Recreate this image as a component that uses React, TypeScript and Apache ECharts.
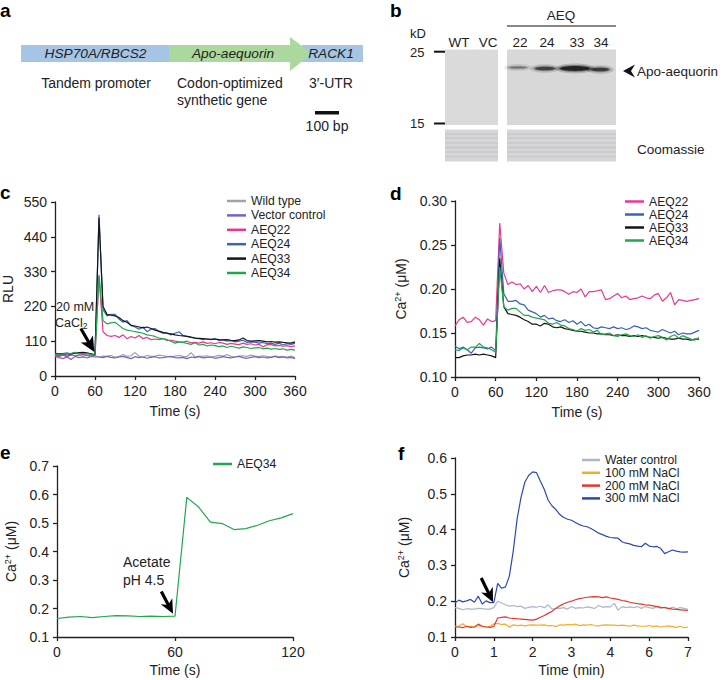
import React, { useEffect, useRef } from "react";
import * as echarts from "echarts";

const FONT = "'Liberation Sans', Arial, Helvetica, sans-serif";
const INK = "#222";

// ---------- Panel c (RLU) ----------
const tC = Array.from({ length: 61 }, (_, i) => i * 6);
const cWildType = [65, 62, 68, 63, 66, 64, 67, 62, 65, 63, 64,
  60, 63, 62, 65, 60, 62, 68, 62, 64, 74, 63, 60, 65, 62, 63, 66, 64, 62, 60, 63, 65, 62, 61, 74, 60, 63, 62, 64, 60, 62, 65, 63, 68, 62, 60, 63, 64, 62, 66, 63, 61, 64, 62, 60, 63, 61, 62, 60, 63, 58];
const cVector = [62, 58, 55, 60, 52, 62, 58, 60, 57, 62, 60,
  60, 58, 62, 59, 57, 60, 62, 58, 55, 61, 58, 60, 56, 59, 61, 57, 58, 60, 62, 58, 57, 59, 55, 60, 58, 61, 57, 59, 60, 56, 58, 61, 59, 57, 60, 62, 58, 56, 59, 61, 58, 60, 57, 59, 62, 58, 60, 57, 59, 55];
const cAEQ22 = [65, 62, 66, 60, 68, 64, 66, 68, 65, 63, 66, 315,
  140, 128, 125, 128, 122, 130, 118, 125, 120, 128, 118, 122, 115, 117, 115, 118, 112, 113, 110, 108, 107, 110, 105, 106, 104, 108, 103, 105, 102, 106, 104, 100, 103, 101, 99, 104, 100, 102, 98, 100, 92, 99, 100, 95, 97, 94, 96, 93, 95];
const cAEQ24 = [68, 65, 70, 66, 70, 72, 73, 70, 71, 69, 66, 510,
  210, 190, 195, 195, 180, 170, 175, 160, 155, 148, 155, 140, 148, 150, 140, 135, 137, 130, 135, 140, 128, 125, 122, 120, 118, 115, 117, 115, 118, 112, 115, 110, 112, 108, 110, 113, 106, 108, 107, 104, 106, 102, 104, 100, 104, 98, 102, 100, 103];
const cAEQ33 = [72, 70, 71, 72, 70, 73, 74, 75, 73, 70, 68, 500,
  220, 195, 192, 190, 185, 175, 170, 160, 158, 155, 152, 155, 150, 145, 142, 138, 135, 133, 130, 128, 127, 125, 123, 120, 119, 118, 117, 116, 117, 115, 114, 115, 113, 112, 114, 120, 112, 110, 111, 112, 110, 108, 109, 107, 108, 106, 105, 104, 108];
const cAEQ34 = [70, 68, 70, 72, 71, 75, 72, 70, 72, 68, 66, 320,
  175, 165, 168, 170, 160, 150, 145, 143, 140, 138, 135, 130, 128, 125, 120, 118, 115, 110, 104, 108, 106, 103, 100, 105, 98, 100, 95, 98, 96, 93, 95, 90, 94, 91, 88, 92, 90, 87, 89, 90, 86, 88, 85, 87, 84, 86, 82, 84, 82];

// ---------- Panel d (Ca2+ µM) ----------
const dAEQ22 = [0.158, 0.165, 0.168, 0.162, 0.163, 0.168, 0.165, 0.159, 0.166, 0.163, 0.164, 0.275,
  0.218, 0.205, 0.208, 0.205, 0.206, 0.2, 0.204, 0.197, 0.203, 0.196, 0.204, 0.196, 0.198, 0.199, 0.199, 0.197, 0.194, 0.197, 0.196, 0.2, 0.191, 0.197, 0.197, 0.198, 0.199, 0.188, 0.189, 0.192, 0.195, 0.19, 0.192, 0.188, 0.189, 0.19, 0.192, 0.19, 0.189, 0.193, 0.195, 0.186, 0.19, 0.196, 0.182, 0.188, 0.187, 0.186, 0.187, 0.188, 0.189];
const dAEQ24 = [0.135, 0.132, 0.134, 0.131, 0.127, 0.133, 0.134, 0.133, 0.132, 0.134, 0.13, 0.258,
  0.195, 0.186, 0.186, 0.187, 0.183, 0.182, 0.176, 0.174, 0.172, 0.168, 0.17, 0.166, 0.167, 0.164, 0.163, 0.165, 0.162, 0.164, 0.16, 0.163, 0.158, 0.16, 0.156, 0.155, 0.157, 0.156, 0.155, 0.157, 0.155, 0.156, 0.154, 0.155, 0.158, 0.157, 0.155, 0.156, 0.153, 0.152, 0.151, 0.154, 0.152, 0.15, 0.152, 0.148, 0.15, 0.149, 0.149, 0.151, 0.153];
const dAEQ33 = [0.122, 0.122, 0.124, 0.125, 0.125, 0.126, 0.125, 0.126, 0.125, 0.124, 0.122, 0.235,
  0.18, 0.172, 0.171, 0.17, 0.168, 0.165, 0.163, 0.16, 0.16, 0.158, 0.161, 0.16, 0.157, 0.156, 0.157, 0.155, 0.154, 0.153, 0.152, 0.152, 0.151, 0.15, 0.15, 0.149, 0.149, 0.148, 0.148, 0.147, 0.148, 0.147, 0.147, 0.146, 0.147, 0.146, 0.147, 0.146, 0.145, 0.145, 0.144, 0.145, 0.144, 0.143, 0.143, 0.144, 0.143, 0.143, 0.142, 0.143, 0.143];
const dAEQ34 = [0.131, 0.13, 0.133, 0.131, 0.134, 0.134, 0.138, 0.134, 0.133, 0.131, 0.128, 0.225,
  0.18, 0.176, 0.178, 0.178, 0.174, 0.17, 0.17, 0.168, 0.167, 0.166, 0.165, 0.161, 0.16, 0.162, 0.159, 0.158, 0.155, 0.154, 0.152, 0.155, 0.153, 0.154, 0.151, 0.153, 0.148, 0.149, 0.15, 0.147, 0.146, 0.148, 0.149, 0.147, 0.146, 0.148, 0.145, 0.147, 0.144, 0.146, 0.147, 0.145, 0.142, 0.146, 0.148, 0.144, 0.147, 0.145, 0.143, 0.142, 0.145];

// ---------- Panel e ----------
const tE = Array.from({ length: 21 }, (_, i) => i * 6);
const eAEQ34 = [0.165, 0.17, 0.172, 0.168, 0.172, 0.175, 0.174, 0.172, 0.173, 0.172, 0.173, 0.59, 0.556, 0.503, 0.498, 0.477, 0.48, 0.492, 0.508, 0.518, 0.533];

// ---------- Panel f ----------
const tF = Array.from({ length: 61 }, (_, i) => i / 10);
const fTickLabels = ["0", "1", "2", "3", "4", "6", "7"];
const fWater = [0.182, 0.18, 0.176, 0.179, 0.178, 0.178, 0.18, 0.179, 0.178, 0.178,
  0.182, 0.2, 0.195, 0.19, 0.186, 0.188, 0.185, 0.186, 0.18, 0.183,
  0.185, 0.183, 0.186, 0.182, 0.19, 0.178, 0.18, 0.18, 0.182, 0.178,
  0.185, 0.18, 0.182, 0.181, 0.184, 0.182, 0.18, 0.188, 0.183, 0.185,
  0.184, 0.194, 0.175, 0.185, 0.182, 0.184, 0.182, 0.185, 0.18, 0.185,
  0.182, 0.18, 0.185, 0.18, 0.183, 0.178, 0.184, 0.179, 0.182, 0.18, 0.177];
const f100 = [0.13, 0.13, 0.137, 0.128, 0.13, 0.128, 0.132, 0.13, 0.128, 0.13,
  0.137, 0.138, 0.135, 0.136, 0.127, 0.134, 0.132, 0.133, 0.131, 0.133,
  0.134, 0.133, 0.133, 0.134, 0.131, 0.132, 0.129, 0.134, 0.133, 0.135,
  0.134, 0.136, 0.132, 0.134, 0.133, 0.135, 0.132, 0.131, 0.133, 0.134,
  0.133, 0.133, 0.132, 0.133, 0.132, 0.13, 0.133, 0.131, 0.13, 0.13,
  0.132, 0.129, 0.131, 0.128, 0.13, 0.131, 0.129, 0.127, 0.13, 0.126, 0.128];
const f200 = [0.128, 0.128, 0.126, 0.13, 0.127, 0.128, 0.136, 0.13, 0.128, 0.127,
  0.13, 0.153, 0.155, 0.156, 0.153, 0.152, 0.151, 0.15, 0.149, 0.148,
  0.147, 0.15, 0.155, 0.16, 0.166, 0.172, 0.18, 0.187, 0.193, 0.197,
  0.2, 0.204, 0.207, 0.209, 0.211, 0.212, 0.213, 0.212, 0.21, 0.212,
  0.209, 0.207, 0.205, 0.202, 0.2, 0.197, 0.195, 0.193, 0.192, 0.19,
  0.189, 0.187, 0.185, 0.183, 0.182, 0.18, 0.178, 0.177, 0.176, 0.175, 0.174];
const f300 = [0.195, 0.203, 0.198, 0.201, 0.205, 0.197, 0.214, 0.192, 0.201, 0.196,
  0.196, 0.25, 0.236, 0.24, 0.27, 0.34, 0.43, 0.49, 0.533, 0.552,
  0.561, 0.559, 0.535, 0.512, 0.482, 0.466, 0.456, 0.442, 0.434, 0.429,
  0.426, 0.42, 0.414, 0.41, 0.408, 0.403, 0.397, 0.39, 0.386, 0.381,
  0.378, 0.377, 0.376, 0.366, 0.362, 0.36, 0.356, 0.354, 0.352, 0.362,
  0.354, 0.352, 0.353, 0.347, 0.333, 0.338, 0.343, 0.34, 0.338, 0.337, 0.338];

const C = {
  wt: "#a3a3a3", vc: "#6f64c8", a22: "#e8388f", a24: "#3b62b6", a33: "#151515", a34: "#22a64c",
  water: "#a9b7c8", n100: "#f6ac2a", n200: "#e8352d", n300: "#2d49b1",
};

const pair = (x: number[], y: number[]) => x.map((v, i) => [v, y[i]]);

const lineS = (name: string, color: string, x: number[], y: number[], idx: number) => ({
  type: "line", name, xAxisIndex: idx, yAxisIndex: idx, data: pair(x, y), symbol: "none",
  lineStyle: { color, width: 1.2 }, itemStyle: { color }, z: 2,
});

const axisCommon = {
  axisLine: { show: true, lineStyle: { color: INK, width: 1.3 } },
  axisTick: { show: true, length: 4, lineStyle: { color: INK, width: 1.3 } },
  splitLine: { show: false },
  nameLocation: "middle",
};
const lbl = (fmt?: any) => ({ fontFamily: FONT, fontSize: 14, color: INK, formatter: fmt });
const caName = {
  name: "Ca{sup|2+} (μM)",
  nameRotate: 90,
  nameTextStyle: {
    fontFamily: FONT, fontSize: 14, color: INK, lineHeight: 16,
    rich: { sup: { fontFamily: FONT, fontSize: 9, lineHeight: 9, verticalAlign: "top", color: INK } },
  },
};
const timeName = (name: string, gap: number) => ({
  name, nameGap: gap, nameTextStyle: { fontFamily: FONT, fontSize: 14, color: INK },
});

const legendCommon = {
  orient: "vertical", icon: "rect", itemWidth: 19, itemHeight: 2.5, padding: 0, selectedMode: false,
  textStyle: { fontFamily: FONT, fontSize: 12.2, color: INK, lineHeight: 12 },
};

function arrowPts(tip: number[], angleDeg: number, len: number, hl: number, hw: number, sw: number) {
  const a = (angleDeg * Math.PI) / 180;
  const ux = Math.cos(a), uy = Math.sin(a);
  const nx = -uy, ny = ux;
  const [tx, ty] = tip;
  const bx = tx - ux * hl, by = ty - uy * hl;
  const kx = bx + ux * 3, ky = by + uy * 3;
  const ex = tx - ux * len, ey = ty - uy * len;
  return [
    [tx, ty], [bx + nx * hw, by + ny * hw], [kx + nx * sw, ky + ny * sw], [ex + nx * sw, ey + ny * sw],
    [ex - nx * sw, ey - ny * sw], [kx - nx * sw, ky - ny * sw], [bx - nx * hw, by - ny * hw],
  ];
}

const txt = (x: number, y: number, text: string, o: any = {}) => {
  const al = o.align || "left";
  const va = o.verticalAlign || "middle";
  return {
    type: "text", x, y, z: 100,
    style: {
      text, fill: INK, fontFamily: FONT, fontSize: 14, ...o,
      align: al, textAlign: al, verticalAlign: va, textVerticalAlign: va,
    },
  };
};

function staticGraphics(): any[] {
  const g: any[] = [];
  // panel letters
  const L = (x: number, y: number, s: string) => txt(x, y, s, { fontSize: 19, fontWeight: "bold", fill: "#000" });
  g.push(L(0, 10, "a"), L(390, 10, "b"), L(0, 192.6, "c"), L(390, 193.4, "d"), L(0, 452.3, "e"), L(398, 453.4, "f"));

  // ---- panel a: construct ----
  g.push({ type: "rect", shape: { x: 21, y: 45, width: 148, height: 17 }, style: { fill: "#a6c4e4" } });
  g.push({ type: "rect", shape: { x: 302, y: 45, width: 61, height: 17 }, style: { fill: "#a6c4e4" } });
  g.push({
    type: "polygon",
    shape: { points: [[169, 45], [290, 45], [290, 37], [312, 53.5], [290, 71], [290, 62], [169, 62]] },
    style: { fill: "#abd89c" },
  });
  g.push(txt(95.5, 53.5, "HSP70A/RBCS2", { align: "center", fontStyle: "italic", fontSize: 13.7 }));
  g.push(txt(233, 53.5, "Apo-aequorin", { align: "center", fontStyle: "italic", fontSize: 13.7 }));
  g.push(txt(331, 53.5, "RACK1", { align: "center", fontStyle: "italic", fontSize: 13.7 }));
  g.push(txt(96, 83, "Tandem promoter", { align: "center" }));
  g.push(txt(177, 83, "Codon-optimized"));
  g.push(txt(177, 100, "synthetic gene"));
  g.push(txt(331, 83, "3′-UTR", { align: "center" }));
  g.push({ type: "rect", shape: { x: 315, y: 111, width: 24, height: 3.5 }, style: { fill: "#111" } });
  g.push(txt(327, 126, "100 bp", { align: "center" }));

  // ---- panel b: blot ----
  g.push(txt(410, 33, "kD", { fontSize: 13 }));
  g.push(txt(410, 52.5, "25", { fontSize: 13 }));
  g.push(txt(410, 123.5, "15", { fontSize: 13 }));
  g.push({ type: "line", shape: { x1: 434, y1: 51.7, x2: 445, y2: 51.7 }, style: { stroke: "#111", lineWidth: 2 } });
  g.push({ type: "line", shape: { x1: 434, y1: 123.5, x2: 445, y2: 123.5 }, style: { stroke: "#111", lineWidth: 2 } });
  g.push({ type: "rect", shape: { x: 445, y: 49.5, width: 53, height: 75.5 }, style: { fill: "#dadada" } });
  g.push({ type: "rect", shape: { x: 507, y: 49.5, width: 109, height: 75.5 }, style: { fill: "#d8d8d8" } });
  g.push({ type: "rect", shape: { x: 445, y: 129.5, width: 53, height: 32 }, style: { fill: "#d6d6d8" } });
  g.push({ type: "rect", shape: { x: 507, y: 129.5, width: 109, height: 32 }, style: { fill: "#d6d6d8" } });
  [134, 138, 143, 147.5, 152, 156.5].forEach((yy, i) => {
    [[445, 498], [507, 616]].forEach(([a, b]) => {
      g.push({ type: "line", shape: { x1: a, y1: yy, x2: b, y2: yy }, style: { stroke: "#9a9aa4", lineWidth: i === 3 ? 2 : 1.3, opacity: 0.22 } });
    });
  });
  const band = (cx: number, cy: number, rx: number, ry: number, op: number) => {
    [[rx + 5, ry + 2.5, op * 0.22], [rx + 2, ry + 1, op * 0.4], [rx, ry, op]].forEach(([a, b, o]) => {
      g.push({ type: "ellipse", shape: { cx, cy, rx: a, ry: b }, style: { fill: "#1a1a1a", opacity: o } });
    });
  };
  band(518, 67.5, 9, 1.1, 0.4);
  band(545, 68.5, 10, 1.8, 0.68);
  band(575, 68.5, 15, 2.4, 0.9);
  band(600, 69.5, 9, 1.8, 0.72);
  g.push(txt(459, 42, "WT", { align: "center", fontSize: 13.5 }));
  g.push(txt(488, 42, "VC", { align: "center", fontSize: 13.5 }));
  g.push(txt(520, 42, "22", { align: "center", fontSize: 13.5 }));
  g.push(txt(547, 42, "24", { align: "center", fontSize: 13.5 }));
  g.push(txt(577, 42, "33", { align: "center", fontSize: 13.5 }));
  g.push(txt(601, 42, "34", { align: "center", fontSize: 13.5 }));
  g.push(txt(561, 15, "AEQ", { align: "center", fontSize: 13.5 }));
  g.push({ type: "line", shape: { x1: 507, y1: 26, x2: 616, y2: 26 }, style: { stroke: "#111", lineWidth: 1 } });
  g.push({ type: "polygon", shape: { points: [[623, 71], [635, 64.5], [631, 71], [635, 77.5]] }, style: { fill: "#111" } });
  g.push(txt(637, 71, "Apo-aequorin", { fontSize: 13.5 }));
  g.push(txt(637, 149, "Coomassie", { fontSize: 13.5 }));
  return g;
}

export default function App() {
  const ref = useRef<HTMLDivElement>(null);
  useEffect(() => {
    const chart = echarts.init(ref.current!, null, { renderer: "svg" });
    const option: any = {
      animation: false,
      backgroundColor: "#ffffff",
      grid: [
        { left: 54, top: 202, width: 241, height: 174 },
        { left: 455, top: 201, width: 244, height: 176 },
        { left: 57, top: 466, width: 236, height: 171 },
        { left: 455, top: 458, width: 233, height: 179 },
      ],
      xAxis: [
        { type: "value", gridIndex: 0, min: 0, max: 360, interval: 60, ...axisCommon, ...timeName("Time (s)", 28), axisLabel: lbl() },
        { type: "value", gridIndex: 1, min: 0, max: 360, interval: 60, ...axisCommon, ...timeName("Time (s)", 28), axisLabel: lbl() },
        { type: "value", gridIndex: 2, min: 0, max: 120, interval: 60, ...axisCommon, ...timeName("Time (s)", 26), axisLabel: lbl() },
        {
          type: "value", gridIndex: 3, min: 0, max: 6, interval: 1, ...axisCommon, ...timeName("Time (min)", 26),
          axisLabel: lbl((v: number) => fTickLabels[Math.round(v)]),
        },
      ],
      yAxis: [
        {
          type: "value", gridIndex: 0, min: 0, max: 550, interval: 110, ...axisCommon, axisLabel: lbl(),
          name: "RLU", nameRotate: 90, nameGap: 40, nameTextStyle: { fontFamily: FONT, fontSize: 14, color: INK },
        },
        { type: "value", gridIndex: 1, min: 0.1, max: 0.3, interval: 0.05, ...axisCommon, axisLabel: lbl((v: number) => v.toFixed(2)), ...caName, nameGap: 46 },
        { type: "value", gridIndex: 2, min: 0.1, max: 0.7, interval: 0.1, ...axisCommon, axisLabel: lbl((v: number) => v.toFixed(1)), ...caName, nameGap: 38 },
        { type: "value", gridIndex: 3, min: 0.1, max: 0.6, interval: 0.1, ...axisCommon, axisLabel: lbl((v: number) => v.toFixed(1)), ...caName, nameGap: 43 },
      ],
      legend: [
        { ...legendCommon, data: ["Wild type", "Vector control", "AEQ22", "AEQ24", "AEQ33", "AEQ34"], left: 227, top: 195, itemGap: 2.4 },
        { ...legendCommon, data: ["AEQ22", "AEQ24", "AEQ33", "AEQ34"], left: 625, top: 195.5, itemGap: 1 },
        { ...legendCommon, data: ["AEQ34"], left: 213, top: 458 },
        { ...legendCommon, data: ["Water control", "100 mM NaCl", "200 mM NaCl", "300 mM NaCl"], left: 582, top: 454, itemWidth: 18, itemGap: 0.8 },
      ],
      series: [
        lineS("Wild type", C.wt, tC, cWildType, 0),
        lineS("Vector control", C.vc, tC, cVector, 0),
        lineS("AEQ22", C.a22, tC, cAEQ22, 0),
        lineS("AEQ24", C.a24, tC, cAEQ24, 0),
        lineS("AEQ33", C.a33, tC, cAEQ33, 0),
        lineS("AEQ34", C.a34, tC, cAEQ34, 0),
        lineS("AEQ22", C.a22, tC, dAEQ22, 1),
        lineS("AEQ24", C.a24, tC, dAEQ24, 1),
        lineS("AEQ33", C.a33, tC, dAEQ33, 1),
        lineS("AEQ34", C.a34, tC, dAEQ34, 1),
        lineS("AEQ34", C.a34, tE, eAEQ34, 2),
        lineS("Water control", C.water, tF, fWater, 3),
        lineS("100 mM NaCl", C.n100, tF, f100, 3),
        lineS("200 mM NaCl", C.n200, tF, f200, 3),
        lineS("300 mM NaCl", C.n300, tF, f300, 3),
      ],
    };
    chart.setOption(option);

    const px = (i: number, p: number[]) => chart.convertToPixel({ xAxisIndex: i, yAxisIndex: i } as any, p) as number[];
    const tipC = px(0, [59, 76]);
    const tipE = px(2, [59, 0.182]);
    const tipF = px(3, [0.98, 0.197]);
    const g = staticGraphics();
    g.push({ type: "polygon", z: 100, shape: { points: arrowPts(tipC, 60, 27, 15, 7, 1.6) }, style: { fill: "#000" } });
    g.push({ type: "polygon", z: 100, shape: { points: arrowPts(tipE, 62, 25, 14, 6.5, 1.6) }, style: { fill: "#000" } });
    g.push({ type: "polygon", z: 100, shape: { points: arrowPts(tipF, 64, 27, 14, 6.5, 1.6) }, style: { fill: "#000" } });
    g.push(txt(56, 306.7, "20 mM", { fontSize: 12.5 }));
    g.push(txt(55, 323, "CaCl{sub|2}", {
      fontSize: 12.5, lineHeight: 15,
      rich: { sub: { fontFamily: FONT, fontSize: 8.5, lineHeight: 8.5, verticalAlign: "bottom", fill: INK } },
    }));
    g.push(txt(123, 561.7, "Acetate"));
    g.push(txt(123, 580, "pH 4.5"));
    chart.setOption({ graphic: g });

    return () => chart.dispose();
  }, []);
  return <div ref={ref} style={{ position: "absolute", left: 0, top: 0, width: 723, height: 680 }} />;
}
